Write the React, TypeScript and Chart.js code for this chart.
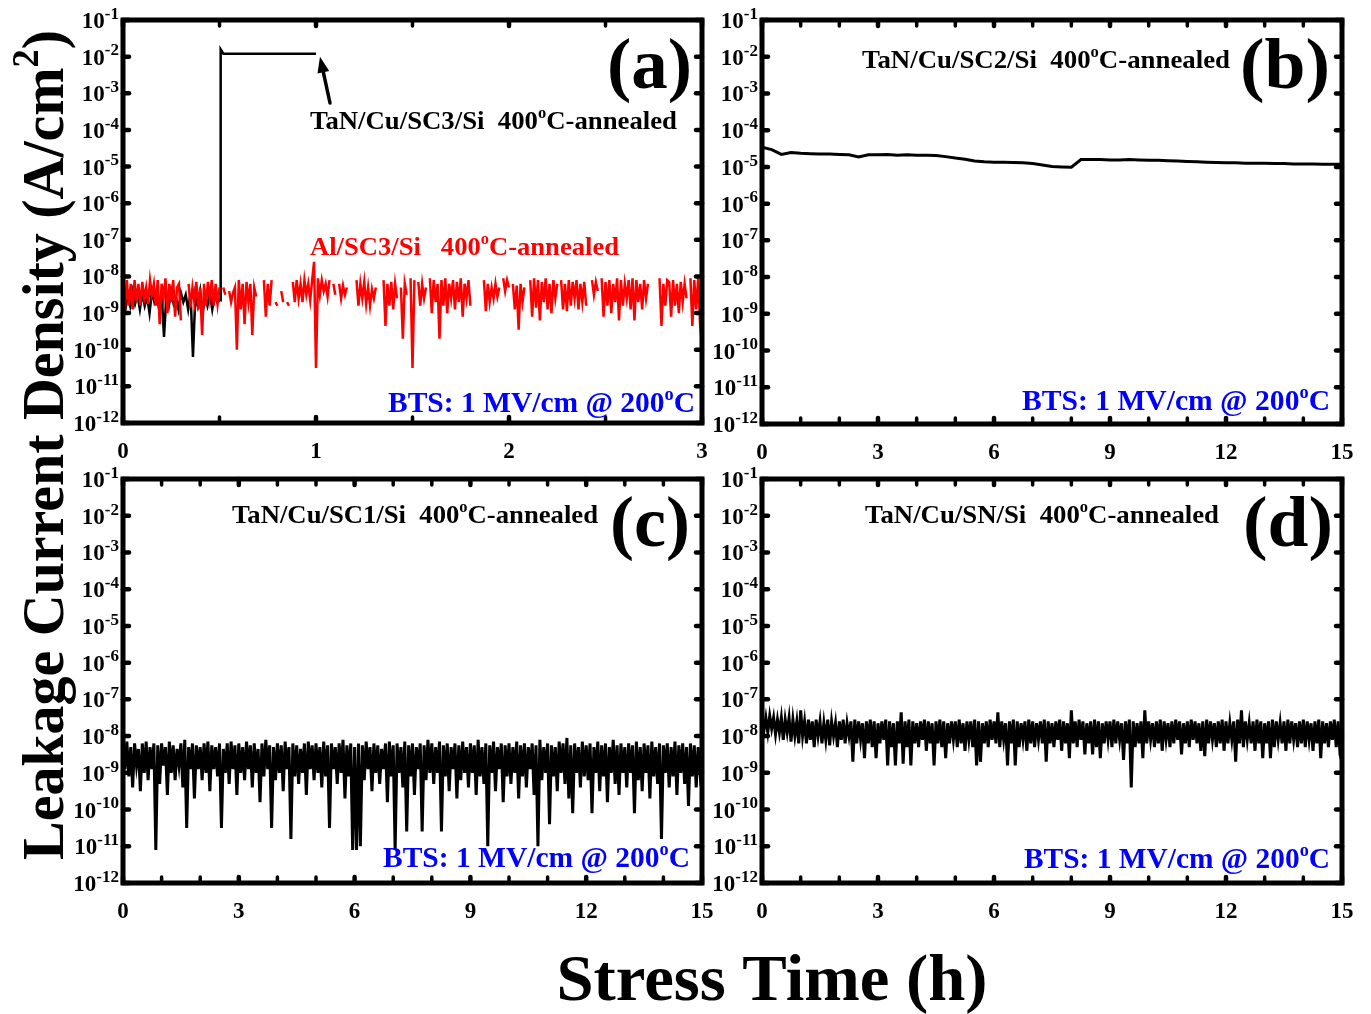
import React, { useEffect, useRef } from "react";
import { Chart, registerables } from "chart.js";

Chart.register(...registerables);

const FIG_W = 1371;
const FIG_H = 1014;
const FONT = '"Liberation Serif", "Times New Roman", serif';

// ---------------- DATA (log10 of leakage current density, A/cm^2) ----------------
// Panel (a) black: TaN/Cu/SC3/Si 400oC-annealed (stress time in h)
const timeA_black = [
  0, 0.0125, 0.025, 0.0375, 0.05, 0.0625, 0.075, 0.0875, 0.1, 0.1125,
  0.125, 0.1375, 0.15, 0.1625, 0.175, 0.1875, 0.2, 0.2125, 0.225, 0.2375,
  0.25, 0.2625, 0.275, 0.2875, 0.3, 0.3125, 0.325, 0.3375, 0.35, 0.3625,
  0.375, 0.3875, 0.4, 0.4125, 0.425, 0.4375, 0.45, 0.4625, 0.475, 0.4875,
  0.503, 0.506, 0.52, 1.0,
];
const logJ_A_black = [
  -8.6, -8.9, -8.5, -8.8, -8.4, -8.75, -8.5, -8.9, -8.45, -8.8,
  -8.55, -9.0, -8.4, -8.7, -8.5, -8.9, -8.45, -9.65, -8.5, -8.8,
  -8.4, -8.75, -8.6, -8.9, -8.45, -8.7, -8.5, -8.9, -8.45, -10.2,
  -8.5, -8.8, -8.4, -9.0, -8.55, -8.8, -8.45, -8.9, -8.5, -8.7,
  -8.65, -1.8, -1.92, -1.92,
];

// Panel (a) red: Al/SC3/Si 400oC-annealed, sampled every 0.01 h (null = no reading)
const RED_A_STEP_H = 0.01;
const logJ_A_red: (number | null)[] = [
  -8.0, -8.9, -8.1, -8.8, -8.2, -8.9, -8.1, -8.7, -8.2, -8.8,
  -8.15, -8.6, -8.3, -8.75, -8.1, -8.5, -8.2, -8.8, -8.1, -9.3,
  -8.2, -8.6, -8.05, -9.0, -8.2, -8.7, -8.1, -9.1, -8.3, -8.2,
  -9.2, null, null, null, -8.2, -8.85, -8.3, -8.7, -8.15, -8.9,
  -8.3, -9.6, -8.2, -8.8, -8.15, -8.6, -8.1, -8.8, -8.2, -8.75,
  -8.3, null, -8.3, -8.5, null, -8.4, -8.7, -8.45, -8.3, -10.0,
  -8.1, -8.9, -8.2, -9.3, -8.15, -8.7, -8.2, -9.6, -8.3, -8.55,
  null, null, null, -8.1, -9.1, -8.2, -8.8, -8.1, null, -8.7,
  -8.8, null, -8.4, -8.7, null, -8.7, -8.8, null, -8.15, -8.7,
  -8.1, -8.6, -8.2, -8.7, -8.1, -8.5, -8.2, -8.65, -8.1, -7.6,
  -10.5, -8.05, -8.5, -8.1, -8.4, -8.2, -8.55, -8.1, null, -8.2,
  -8.5, null, -8.2, -8.6, -8.25, -8.5, -8.3, null, null, null,
  null, -8.1, -8.8, -8.2, -8.6, -8.15, -8.75, -8.3, -8.8, -8.35,
  -8.6, -8.3, null, null, null, -8.1, -9.35, -8.2, -8.8, -8.15,
  -8.9, -8.2, -8.6, null, -8.3, -9.7, -8.2, -8.5, null, -8.05,
  -10.5, -8.1, null, -8.15, -8.8, -8.2, -8.6, -8.3, null, -8.05,
  -9.0, -8.1, -8.7, -8.2, -9.7, -8.1, -8.8, -8.05, -9.0, -8.2,
  -8.6, -8.1, -8.9, -8.15, -8.7, -8.05, -9.1, -8.2, -8.6, -8.1,
  -8.8, null, null, null, null, null, null, -8.1, -8.95, -8.2,
  -8.7, -8.3, -8.6, -8.2, -8.55, -8.3, null, -8.05, -8.4, -8.1,
  -8.3, null, -8.2, -8.9, -8.25, -9.45, -8.2, -8.7, -8.3, null,
  null, -8.1, -9.1, -8.05, -8.85, -8.1, -9.2, -8.15, -8.7, -8.05,
  -8.9, -8.2, -9.0, -8.1, -8.6, -8.2, null, -8.1, -8.9, -8.2,
  -8.95, -8.1, -8.8, -8.15, -8.6, -8.1, -8.9, -8.2, -8.7, -8.15,
  -8.8, null, null, -8.1, -8.5, -8.15, -8.4, null, -8.05, -9.1,
  -8.15, -8.8, -8.1, -9.0, -8.2, -8.7, -8.05, -9.2, -8.1, -8.8,
  -8.2, -8.6, -8.1, -8.9, -8.05, -9.2, -8.1, -8.7, -8.2, -8.9,
  -8.1, -8.6, -8.2, null, null, null, null, null, -8.05, -9.35,
  -8.2, -8.8, -8.1, -8.15, -9.1, -8.1, -8.8, -8.2, -9.0, -8.15,
  -8.7, -8.2, -8.6, null, -8.05, -9.35, -8.1, -8.9, -8.05, -9.3,
  -9.9,
];

// Panel (b): TaN/Cu/SC2/Si, every 0.25 h
const B_STEP_H = 0.25;
const logJ_B = [
  -4.46, -4.53, -4.66, -4.61, -4.63, -4.64, -4.65, -4.65, -4.66, -4.67,
  -4.73, -4.67, -4.67, -4.66, -4.68, -4.67, -4.68, -4.68, -4.69, -4.72,
  -4.76, -4.79, -4.84, -4.86, -4.87, -4.87, -4.88, -4.89, -4.91, -4.95,
  -4.99, -5.0, -5.01, -4.8, -4.8, -4.8, -4.81, -4.81, -4.8, -4.81,
  -4.82, -4.82, -4.83, -4.84, -4.85, -4.86, -4.87, -4.88, -4.89, -4.89,
  -4.9, -4.9, -4.9, -4.91, -4.91, -4.92, -4.92, -4.92, -4.93, -4.93,
  -4.93,
];

// Panel (c): TaN/Cu/SC1/Si, every 0.05 h
const C_STEP_H = 0.05;
const logJ_C = [
  -8.25, -8.9, -8.15, -9.1, -8.3, -9.4, -8.2, -8.8, -8.35, -9.5, -8.2, -9.0, -8.15, -9.2, -8.3, -8.9, -8.2, -11.1, -8.25, -9.3,
  -8.2, -8.8, -8.3, -9.6, -8.15, -9.0, -8.25, -9.2, -8.35, -8.8, -8.2, -9.4, -8.1, -10.5, -8.3, -8.9, -8.2, -9.7, -8.25, -8.9,
  -8.3, -9.2, -8.2, -9.0, -8.15, -9.5, -8.25, -8.9, -8.3, -9.1, -8.2, -10.5, -8.35, -9.0, -8.2, -9.3, -8.15, -8.9, -8.25, -9.6,
  -8.2, -9.0, -8.3, -9.2, -8.15, -8.9, -8.25, -9.4, -8.2, -9.0, -8.35, -9.8, -8.2, -9.1, -8.1, -8.9, -8.25, -10.5, -8.3, -9.2,
  -8.2, -9.0, -8.25, -9.5, -8.15, -8.9, -8.3, -10.8, -8.2, -9.1, -8.25, -9.3, -8.35, -9.0, -8.2, -9.6, -8.15, -8.9, -8.25, -9.2,
  -8.2, -9.0, -8.3, -9.4, -8.15, -9.1, -8.25, -10.5, -8.2, -8.9, -8.3, -9.3, -8.2, -9.0, -8.1, -9.7, -8.25, -9.1, -8.2, -11.1,
  -8.3, -11.1, -8.2, -11.0, -8.25, -9.2, -8.15, -8.9, -8.3, -9.5, -8.2, -9.0, -8.25, -9.3, -8.35, -8.9, -8.2, -9.8, -8.15, -9.1,
  -8.25, -11.1, -8.2, -9.0, -8.3, -9.4, -8.15, -10.6, -8.25, -9.1, -8.2, -9.6, -8.3, -8.9, -8.2, -10.6, -8.25, -9.2, -8.1, -9.0,
  -8.2, -9.3, -8.3, -9.0, -8.15, -10.6, -8.25, -9.1, -8.2, -9.5, -8.3, -8.9, -8.2, -9.7, -8.25, -9.2, -8.15, -9.0, -8.3, -9.4,
  -8.2, -9.0, -8.25, -9.6, -8.1, -9.1, -8.3, -9.3, -8.2, -11.0, -8.25, -9.0, -8.15, -9.5, -8.3, -8.9, -8.2, -9.8, -8.25, -9.1,
  -8.2, -9.3, -8.3, -9.0, -8.15, -9.7, -8.25, -9.1, -8.2, -9.4, -8.3, -8.9, -8.2, -9.6, -8.25, -11.0, -8.1, -9.2, -8.3, -9.0,
  -8.2, -10.4, -8.25, -9.1, -8.3, -9.5, -8.15, -9.0, -8.2, -9.3, -8.05, -9.7, -8.25, -10.1, -8.2, -9.0, -8.3, -9.4, -8.15, -9.1,
  -8.25, -9.2, -8.2, -10.1, -8.3, -9.0, -8.15, -9.5, -8.25, -9.1, -8.2, -9.8, -8.3, -9.0, -8.1, -9.3, -8.25, -9.6, -8.2, -9.0,
  -8.3, -9.4, -8.2, -9.0, -8.25, -10.1, -8.15, -9.2, -8.3, -9.5, -8.2, -9.0, -8.25, -9.7, -8.15, -9.1, -8.3, -9.3, -8.2, -10.8,
  -8.25, -9.0, -8.2, -9.4, -8.3, -9.1, -8.15, -9.6, -8.25, -9.0, -8.2, -9.3, -8.3, -9.9, -8.2, -9.1, -8.25, -9.4, -8.3, -9.0,
  -8.6,
];

// Panel (d): TaN/Cu/SN/Si, every 0.05 h
const D_STEP_H = 0.05;
const logJ_D = [
  -7.45, -7.85, -7.5, -7.9, -7.45, -7.8, -7.5, -7.95, -7.55, -7.9, -7.5, -8.1, -7.55, -7.9, -7.5, -8.15, -7.55, -8.0, -7.6, -8.2,
  -7.3, -8.0, -7.6, -8.2, -7.55, -8.1, -7.6, -8.3, -7.55, -8.0, -7.6, -8.2, -7.65, -8.1, -7.55, -8.25, -7.6, -8.0, -7.65, -8.3,
  -7.6, -8.1, -7.55, -8.2, -7.65, -8.0, -7.6, -8.7, -7.55, -8.2, -7.6, -8.1, -7.65, -8.6, -7.6, -8.2, -7.55, -8.3, -7.6, -8.6,
  -7.65, -8.2, -7.6, -8.1, -7.55, -8.8, -7.6, -8.3, -7.65, -8.8, -7.6, -8.2, -7.35, -8.75, -7.6, -8.3, -7.55, -8.8, -7.6, -8.2,
  -7.65, -8.3, -7.6, -8.1, -7.55, -8.4, -7.6, -8.2, -7.65, -8.8, -7.6, -8.2, -7.55, -8.3, -7.6, -8.6, -7.65, -8.2, -7.6, -8.1,
  -7.6, -8.3, -7.55, -8.2, -7.65, -8.4, -7.6, -8.1, -7.6, -8.3, -7.55, -8.8, -7.6, -8.7, -7.65, -8.2, -7.6, -8.3, -7.55, -8.1,
  -7.6, -8.2, -7.35, -8.3, -7.6, -8.1, -7.65, -8.8, -7.6, -8.2, -7.55, -8.8, -7.6, -8.3, -7.65, -8.1, -7.6, -8.4, -7.55, -8.2,
  -7.6, -8.3, -7.65, -8.1, -7.6, -8.2, -7.55, -8.7, -7.6, -8.2, -7.65, -8.3, -7.6, -8.1, -7.55, -8.4, -7.6, -8.2, -7.65, -8.6,
  -7.3, -8.2, -7.6, -8.3, -7.55, -8.1, -7.6, -8.5, -7.65, -8.2, -7.6, -8.5, -7.55, -8.3, -7.6, -8.6, -7.65, -8.2, -7.6, -8.1,
  -7.6, -8.3, -7.55, -8.2, -7.6, -8.1, -7.65, -8.65, -7.6, -8.2, -7.55, -9.4, -7.6, -8.3, -7.65, -8.2, -7.6, -8.6, -7.3, -8.2,
  -7.6, -8.1, -7.65, -8.3, -7.6, -8.2, -7.55, -8.4, -7.6, -8.1, -7.65, -8.3, -7.6, -8.2, -7.55, -8.1, -7.6, -8.5, -7.65, -8.2,
  -7.6, -8.3, -7.55, -8.1, -7.6, -8.2, -7.65, -8.4, -7.6, -8.55, -7.55, -8.2, -7.6, -8.1, -7.65, -8.3, -7.6, -8.2, -7.55, -8.4,
  -7.6, -8.2, -7.65, -8.1, -7.6, -8.7, -7.55, -8.2, -7.3, -8.3, -7.6, -8.1, -7.65, -8.2, -7.6, -8.4, -7.55, -8.2, -7.6, -8.6,
  -7.65, -8.2, -7.6, -8.6, -7.55, -8.3, -7.6, -8.1, -7.65, -8.2, -7.6, -8.4, -7.55, -8.2, -7.6, -8.1, -7.65, -8.3, -7.6, -8.2,
  -7.55, -8.3, -7.6, -8.1, -7.65, -8.4, -7.6, -8.2, -7.55, -8.6, -7.6, -8.2, -7.65, -8.3, -7.6, -8.1, -7.55, -8.3, -7.6, -8.5,
  -8.7,
];

// Tick values / labels
const Y_EXPONENTS = [-1, -2, -3, -4, -5, -6, -7, -8, -9, -10, -11, -12];
const X_MAJOR_A = [0, 1, 2, 3];
const X_MINOR_A = [0.5, 1.5, 2.5];
const X_MAJOR_15 = [0, 3, 6, 9, 12, 15];
const X_MINOR_15 = [1, 2, 4, 5, 7, 8, 10, 11, 13, 14];

// Texts
const ANNEAL = "400";
const BTS_TEXT = "BTS: 1 MV/cm @ 200";

// ---------------- helpers ----------------
type Part = [string, boolean];
type TextSpec = {
  parts: Part[];
  x: number;
  y: number;
  size: number;
  color: string;
  align: "left" | "right" | "center";
  width?: number;
  supRatio?: number;
  supRise?: number;
};

function gridTimes(step: number, n: number) {
  return Array.from({ length: n }, (_, i) => +(i * step).toFixed(4));
}
function toPoints(times: number[], logs: (number | null)[]) {
  return logs.map((v, i) => ({ x: times[i], y: v === null ? null : Math.pow(10, v) }));
}

function drawRich(ctx: CanvasRenderingContext2D, t: TextSpec) {
  const supSize = Math.round(t.size * (t.supRatio ?? 0.62));
  const rise = t.size * (t.supRise ?? 0.42);
  const widths = t.parts.map(([s, sup]) => {
    ctx.font = `bold ${sup ? supSize : t.size}px ${FONT}`;
    return ctx.measureText(s).width;
  });
  const natural = widths.reduce((a, b) => a + b, 0);
  const sx = t.width ? t.width / natural : 1;
  const total = natural * sx;
  const x0 = t.align === "left" ? t.x : t.align === "right" ? t.x - total : t.x - total / 2;
  ctx.save();
  ctx.translate(x0, t.y);
  ctx.scale(sx, 1);
  ctx.fillStyle = t.color;
  ctx.textAlign = "left";
  ctx.textBaseline = "alphabetic";
  let cx = 0;
  t.parts.forEach(([s, sup], i) => {
    ctx.font = `bold ${sup ? supSize : t.size}px ${FONT}`;
    ctx.fillText(s, cx, sup ? -rise : 0);
    cx += widths[i];
  });
  ctx.restore();
}

type PanelCfg = {
  id: string;
  box: { l: number; t: number; r: number; b: number };
  xMax: number;
  xMajor: number[];
  xMinor: number[];
  datasets: any[];
  texts: TextSpec[];
  arrow?: { tipT: number; tipLog: number; tail: [number, number] };
  global?: boolean;
};

const annealParts = (sample: string): Part[] => [
  [sample + ANNEAL, false],
  ["o", true],
  ["C-annealed", false],
];
const btsParts: Part[] = [
  [BTS_TEXT, false],
  ["o", true],
  ["C", false],
];

const PANELS: PanelCfg[] = [
  {
    id: "a",
    box: { l: 123, t: 20, r: 702, b: 423 },
    xMax: 3,
    xMajor: X_MAJOR_A,
    xMinor: X_MINOR_A,
    datasets: [
      {
        label: "Al/SC3/Si",
        data: toPoints(gridTimes(RED_A_STEP_H, logJ_A_red.length), logJ_A_red),
        borderColor: "#ff0000",
        borderWidth: 2.5,
        spanGaps: false,
      },
      {
        label: "TaN/Cu/SC3/Si",
        data: toPoints(timeA_black, logJ_A_black),
        borderColor: "#000000",
        borderWidth: 2.5,
      },
    ],
    texts: [
      { parts: annealParts("TaN/Cu/SC3/Si  "), x: 310, y: 129, size: 26, color: "#000", align: "left", width: 367 },
      { parts: annealParts("Al/SC3/Si   "), x: 310, y: 255, size: 26, color: "#ff0000", align: "left", width: 309 },
      { parts: btsParts, x: 388, y: 412, size: 29, color: "#0000ff", align: "left", width: 307 },
      { parts: [["(a)", false]], x: 607, y: 88, size: 72, color: "#000", align: "left", width: 85 },
    ],
    arrow: { tipT: 1.0, tipLog: -1.92, tail: [330, 103] },
    global: true,
  },
  {
    id: "b",
    box: { l: 762, t: 20, r: 1342, b: 424 },
    xMax: 15,
    xMajor: X_MAJOR_15,
    xMinor: X_MINOR_15,
    datasets: [
      {
        label: "TaN/Cu/SC2/Si",
        data: toPoints(gridTimes(B_STEP_H, logJ_B.length), logJ_B),
        borderColor: "#000000",
        borderWidth: 3,
      },
    ],
    texts: [
      { parts: annealParts("TaN/Cu/SC2/Si  "), x: 862, y: 68, size: 26, color: "#000", align: "left", width: 368 },
      { parts: btsParts, x: 1022, y: 410, size: 29, color: "#0000ff", align: "left", width: 308 },
      { parts: [["(b)", false]], x: 1240, y: 88, size: 72, color: "#000", align: "left", width: 90 },
    ],
  },
  {
    id: "c",
    box: { l: 123, t: 479, r: 702, b: 883 },
    xMax: 15,
    xMajor: X_MAJOR_15,
    xMinor: X_MINOR_15,
    datasets: [
      {
        label: "TaN/Cu/SC1/Si",
        data: toPoints(gridTimes(C_STEP_H, logJ_C.length), logJ_C),
        borderColor: "#000000",
        borderWidth: 3,
      },
    ],
    texts: [
      { parts: annealParts("TaN/Cu/SC1/Si  "), x: 232, y: 523, size: 26, color: "#000", align: "left", width: 366 },
      { parts: btsParts, x: 383, y: 867, size: 29, color: "#0000ff", align: "left", width: 307 },
      { parts: [["(c)", false]], x: 610, y: 546, size: 72, color: "#000", align: "left", width: 80 },
    ],
  },
  {
    id: "d",
    box: { l: 762, t: 479, r: 1342, b: 883 },
    xMax: 15,
    xMajor: X_MAJOR_15,
    xMinor: X_MINOR_15,
    datasets: [
      {
        label: "TaN/Cu/SN/Si",
        data: toPoints(gridTimes(D_STEP_H, logJ_D.length), logJ_D),
        borderColor: "#000000",
        borderWidth: 3,
      },
    ],
    texts: [
      { parts: annealParts("TaN/Cu/SN/Si  "), x: 865, y: 523, size: 26, color: "#000", align: "left", width: 354 },
      { parts: btsParts, x: 1024, y: 868, size: 29, color: "#0000ff", align: "left", width: 306 },
      { parts: [["(d)", false]], x: 1243, y: 546, size: 72, color: "#000", align: "left", width: 90 },
    ],
  },
];

const Y_TITLE: TextSpec = {
  parts: [
    ["Leakage Current Density (A/cm", false],
    ["2", true],
    [")", false],
  ],
  x: 0,
  y: 0,
  size: 59,
  color: "#000",
  align: "center",
  width: 830,
};
const X_TITLE: TextSpec = {
  parts: [["Stress Time (h)", false]],
  x: 772,
  y: 1000,
  size: 66,
  color: "#000",
  align: "center",
  width: 431,
};

function framePlugin(cfg: PanelCfg) {
  return {
    id: "frame-" + cfg.id,
    afterDraw(chart: any) {
      const ctx: CanvasRenderingContext2D = chart.ctx;
      const { left, right, top, bottom } = chart.chartArea;
      const xs = chart.scales.x;
      const ys = chart.scales.y;
      const TL = 6;
      ctx.save();
      ctx.strokeStyle = "#000";
      ctx.fillStyle = "#000";
      ctx.lineCap = "round";
      const tick = (x1: number, y1: number, x2: number, y2: number, w: number) => {
        ctx.lineWidth = w;
        ctx.beginPath();
        ctx.moveTo(x1, y1);
        ctx.lineTo(x2, y2);
        ctx.stroke();
      };
      cfg.xMinor.forEach((v) => {
        const px = xs.getPixelForValue(v);
        tick(px, bottom, px, bottom - TL, 3.5);
        tick(px, top, px, top + TL, 3.5);
      });
      cfg.xMajor.forEach((v) => {
        const px = xs.getPixelForValue(v);
        tick(px, bottom, px, bottom - TL, 4.5);
        tick(px, top, px, top + TL, 4.5);
      });
      Y_EXPONENTS.forEach((e) => {
        const py = ys.getPixelForValue(Math.pow(10, e));
        tick(left, py, left + TL, py, 4.5);
        tick(right, py, right - TL, py, 4.5);
      });
      ctx.lineCap = "butt";
      ctx.lineJoin = "miter";
      ctx.lineWidth = 5;
      ctx.strokeRect(left, top, right - left, bottom - top);

      // y tick labels 10^n
      Y_EXPONENTS.forEach((e) => {
        const py = ys.getPixelForValue(Math.pow(10, e));
        drawRich(ctx, {
          parts: [
            ["10", false],
            [String(e), true],
          ],
          x: left - 4,
          y: py + 8,
          size: 23,
          color: "#000",
          align: "right",
          supRatio: 0.72,
          supRise: 0.4,
        });
      });
      // x tick labels
      ctx.fillStyle = "#000";
      ctx.font = `bold 23px ${FONT}`;
      ctx.textAlign = "center";
      ctx.textBaseline = "alphabetic";
      cfg.xMajor.forEach((v) => {
        ctx.fillText(String(v), xs.getPixelForValue(v), bottom + 35);
      });

      cfg.texts.forEach((t) => drawRich(ctx, t));

      if (cfg.arrow) {
        const tipX = xs.getPixelForValue(cfg.arrow.tipT) + 4;
        const tipY = ys.getPixelForValue(Math.pow(10, cfg.arrow.tipLog)) + 3;
        const [tx, ty] = cfg.arrow.tail;
        const dx = tipX - tx;
        const dy = tipY - ty;
        const len = Math.hypot(dx, dy);
        const ux = dx / len;
        const uy = dy / len;
        const headL = 16;
        const headW = 6;
        const bx = tipX - ux * headL;
        const by = tipY - uy * headL;
        ctx.lineWidth = 3.5;
        ctx.lineCap = "round";
        ctx.beginPath();
        ctx.moveTo(tx, ty);
        ctx.lineTo(bx, by);
        ctx.stroke();
        ctx.beginPath();
        ctx.moveTo(tipX, tipY);
        ctx.lineTo(bx - uy * headW, by + ux * headW);
        ctx.lineTo(bx + uy * headW, by - ux * headW);
        ctx.closePath();
        ctx.fill();
      }

      if (cfg.global) {
        ctx.save();
        ctx.translate(63, 445);
        ctx.rotate(-Math.PI / 2);
        drawRich(ctx, Y_TITLE);
        ctx.restore();
        drawRich(ctx, X_TITLE);
      }
      ctx.restore();
    },
  };
}

function Panel({ cfg }: { cfg: PanelCfg }) {
  const ref = useRef<HTMLCanvasElement>(null);
  useEffect(() => {
    const canvas = ref.current;
    if (!canvas) return;
    const chart = new Chart(canvas, {
      type: "line",
      data: { datasets: cfg.datasets },
      options: {
        responsive: false,
        animation: false,
        devicePixelRatio: 1,
        layout: {
          padding: {
            left: cfg.box.l,
            top: cfg.box.t,
            right: FIG_W - cfg.box.r,
            bottom: FIG_H - cfg.box.b,
          },
        },
        plugins: { legend: { display: false }, tooltip: { enabled: false }, title: { display: false } },
        elements: { point: { radius: 0 }, line: { tension: 0 } },
        scales: {
          x: { type: "linear", min: 0, max: cfg.xMax, display: false },
          y: { type: "logarithmic", min: 1e-12, max: 1e-1, display: false },
        },
      } as any,
      plugins: [framePlugin(cfg)],
    });
    return () => chart.destroy();
  }, [cfg]);
  return (
    <canvas
      ref={ref}
      width={FIG_W}
      height={FIG_H}
      style={{ position: "absolute", left: 0, top: 0, width: FIG_W, height: FIG_H }}
    />
  );
}

export default function App() {
  return (
    <div
      style={{
        position: "absolute",
        left: 0,
        top: 0,
        width: FIG_W,
        height: FIG_H,
        background: "#fff",
        overflow: "hidden",
      }}
    >
      {PANELS.map((p) => (
        <Panel key={p.id} cfg={p} />
      ))}
    </div>
  );
}
